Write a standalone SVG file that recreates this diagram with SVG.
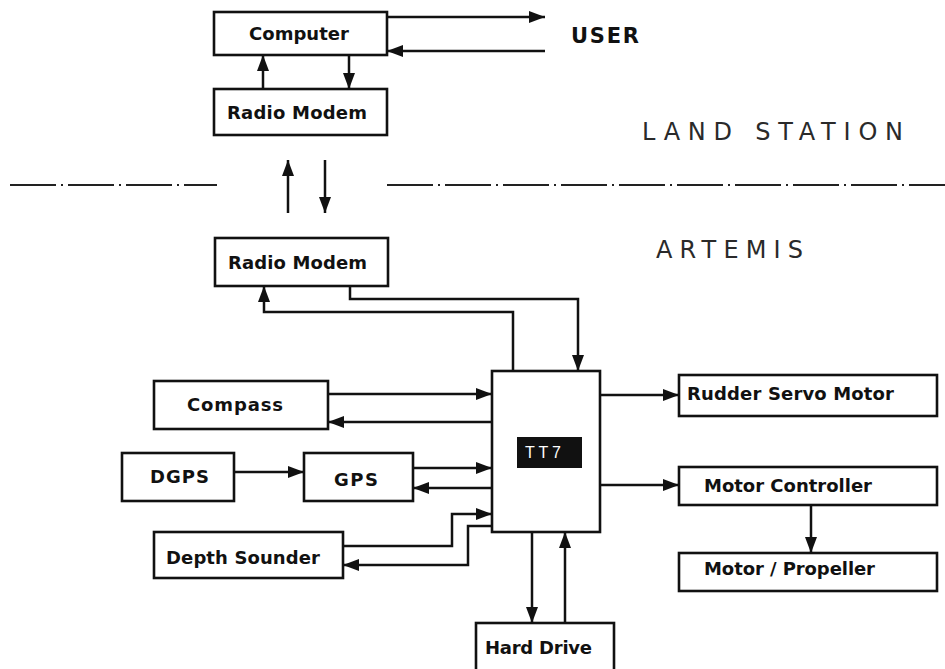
<svg xmlns="http://www.w3.org/2000/svg" width="945" height="669" viewBox="0 0 945 669">
  <style>
    .box { fill: #fff; stroke: #111; stroke-width: 2.6; }
    .lbl { font-family: "DejaVu Sans", "Liberation Sans", Arial, sans-serif; font-weight: bold; font-size: 18px; fill: #111; }
    .area { font-family: "DejaVu Sans", "Liberation Sans", Arial, sans-serif; font-size: 24px; fill: #2a2a2a; }
    .wire { fill: none; stroke: #111; stroke-width: 2.5; }
    .arr { marker-end: url(#head); }
    .sep { fill: none; stroke: #222; stroke-width: 2; stroke-dasharray: 46 5 2 5; }
  </style>
  <defs>
    <marker id="head" viewBox="0 0 16 12" refX="16" refY="6" markerWidth="16" markerHeight="12" markerUnits="userSpaceOnUse" orient="auto">
      <path d="M0,0 L16,6 L0,12 z" fill="#111"/>
    </marker>
  </defs>
  <rect width="945" height="669" fill="#fff"/>

  <!-- section labels and boundary -->
  <g id="labels">
    <text class="lbl" x="571" y="43" font-size="21" style="font-size:21px" textLength="68">USER</text>
    <text class="area" x="642" y="140" textLength="261">LAND STATION</text>
    <text class="area" x="656" y="258" textLength="147">ARTEMIS</text>
    <path class="sep" d="M10,185 H217"/>
    <path class="sep" d="M387,185 H945"/>
  </g>

  <!-- land station nodes -->
  <g id="computer">
    <rect class="box" x="214" y="12" width="173" height="43"/>
    <text class="lbl" x="249" y="40" textLength="100">Computer</text>
  </g>
  <g id="radio-modem-land">
    <rect class="box" x="214" y="89" width="173" height="46"/>
    <text class="lbl" x="227" y="119" textLength="140">Radio Modem</text>
  </g>

  <!-- vehicle nodes -->
  <g id="radio-modem-artemis">
    <rect class="box" x="215" y="238" width="173" height="48"/>
    <text class="lbl" x="228" y="269" textLength="139">Radio Modem</text>
  </g>
  <g id="tt7">
    <rect class="box" x="492" y="371" width="108" height="161"/>
    <rect x="517" y="437" width="65" height="31" fill="#111"/>
    <text x="525" y="458" font-family="'Liberation Sans', Arial, sans-serif" font-size="16" fill="#fff" textLength="36">TT7</text>
  </g>
  <g id="compass">
    <rect class="box" x="154" y="381" width="174" height="48"/>
    <text class="lbl" x="187" y="411" textLength="96">Compass</text>
  </g>
  <g id="dgps">
    <rect class="box" x="122" y="453" width="112" height="48"/>
    <text class="lbl" x="150" y="483" textLength="59">DGPS</text>
  </g>
  <g id="gps">
    <rect class="box" x="304" y="453" width="109" height="48"/>
    <text class="lbl" x="334" y="486" textLength="44">GPS</text>
  </g>
  <g id="depth-sounder">
    <rect class="box" x="154" y="532" width="189" height="46"/>
    <text class="lbl" x="166" y="564" textLength="154">Depth Sounder</text>
  </g>
  <g id="rudder-servo-motor">
    <rect class="box" x="679" y="375" width="258" height="41"/>
    <text class="lbl" x="687" y="400" textLength="207">Rudder Servo Motor</text>
  </g>
  <g id="motor-controller">
    <rect class="box" x="679" y="467" width="258" height="38"/>
    <text class="lbl" x="704" y="492" textLength="168">Motor Controller</text>
  </g>
  <g id="motor-propeller">
    <rect class="box" x="679" y="553" width="258" height="38"/>
    <text class="lbl" x="704" y="575" textLength="171">Motor / Propeller</text>
  </g>
  <g id="hard-drive">
    <rect class="box" x="476" y="623" width="138" height="50"/>
    <text class="lbl" x="485" y="654" textLength="107">Hard Drive</text>
  </g>

  <!-- connectors -->
  <g id="connectors">
    <path class="wire arr" d="M387,17 H545"/>
    <path class="wire arr" d="M545,51 H387"/>
    <path class="wire arr" d="M263,89 V55"/>
    <path class="wire arr" d="M349,55 V89"/>
    <path class="wire arr" d="M288,213 V160"/>
    <path class="wire arr" d="M325,160 V213"/>
    <path class="wire arr" d="M350,286 V299 H578 V371"/>
    <path class="wire arr" d="M513,371 V312 H264 V286"/>
    <path class="wire arr" d="M328,394 H492"/>
    <path class="wire arr" d="M492,422 H328"/>
    <path class="wire arr" d="M234,472 H304"/>
    <path class="wire arr" d="M413,468 H492"/>
    <path class="wire arr" d="M492,488 H413"/>
    <path class="wire arr" d="M343,546 H452 V514 H492"/>
    <path class="wire arr" d="M492,526 H468 V565 H343"/>
    <path class="wire arr" d="M600,395 H679"/>
    <path class="wire arr" d="M600,485 H679"/>
    <path class="wire arr" d="M811,505 V553"/>
    <path class="wire arr" d="M532,532 V623"/>
    <path class="wire arr" d="M565,623 V532"/>
  </g>
</svg>
